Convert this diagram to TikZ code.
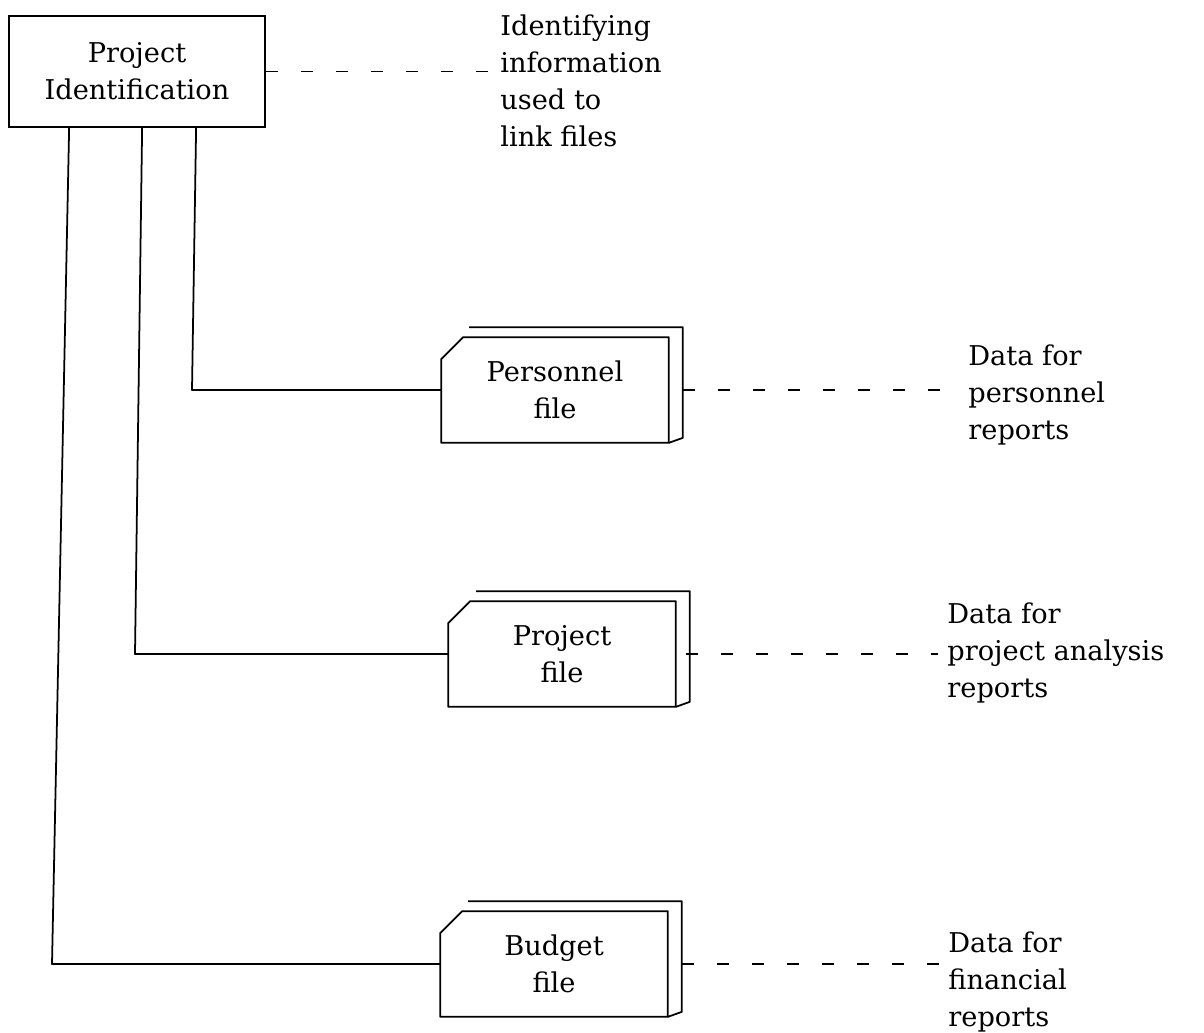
\documentclass[tikz,border=0pt]{standalone}
\usepackage{fontspec}
\setmainfont{DejaVu Serif}

\begin{document}
\begin{tikzpicture}
            [x=0.02cm, y=-0.02cm, every node/.style={font=\fontsize{15.5}{21}\selectfont, inner sep=0, align=center},
             idbox/.style={draw, line width=1pt, minimum width=5.12cm, minimum height=2.22cm},
             filebox/.style={minimum width=4.54cm, minimum height=2.1cm},
             note/.style={anchor=west, align=left},
             link/.style={line width=1pt, line join=round},
             trace/.style={line width=0.9pt, dash pattern=on 0.24cm off 0.46cm, shorten >=5pt}]

            \useasboundingbox (0, 0) rectangle (1204, 1032);

            \node[idbox] (pid) at (137, 71.5) {Project\\Identification};
            \node[filebox] (pers) at (555, 390) {Personnel\\file};
            \node[filebox] (proj) at (562, 654) {Project\\file};
            \node[filebox] (bud) at (554, 964) {Budget\\file};

            \node[note] (nid) at (500, 81) {Identifying\\information\\used to\\link files};
            \node[note] (npers) at (968, 395) {Data for\\personnel\\reports};
            \node[note] (nproj) at (947, 653) {Data for\\project analysis\\reports};
            \node[note] (nfin) at (948, 982) {Data for\\financial\\reports};

            % file boxes
            \foreach \f in {pers, proj, bud} {
              \draw[link] (\f.south west) -- ([yshift=-0.44cm]\f.north west) -- ([xshift=0.44cm]\f.north west) -- (\f.north east) -- (\f.south east) -- cycle;
              \draw[link] ([xshift=0.56cm, yshift=0.2cm]\f.north west) -- ([xshift=0.28cm, yshift=0.2cm]\f.north east) -- ([xshift=0.28cm, yshift=0.1cm]\f.south east) -- (\f.south east);
            }

            \coordinate (k1) at (192, 390);
            \coordinate (k2) at (135, 654);
            \coordinate (k3) at (52, 964);

            \draw[link] ([xshift=3.76cm]pid.south west) -- (k1) -- (pers.west);
            \draw[link] ([xshift=2.68cm]pid.south west) -- (k2) -- (proj.west);
            \draw[link] ([xshift=1.22cm]pid.south west) -- (k3) -- (bud.west);

            \draw[trace] (pid.east) -- (pid.east -| nid.west);
            \draw[trace] ([xshift=0.28cm]pers.east) -- (pers.east -| npers.west);
            \draw[trace] ([xshift=0.2cm]proj.east) -- (proj.east -| nproj.west);
            \draw[trace] ([xshift=0.28cm]bud.east) -- (bud.east -| nfin.west);
          \end{tikzpicture}
\end{document}
